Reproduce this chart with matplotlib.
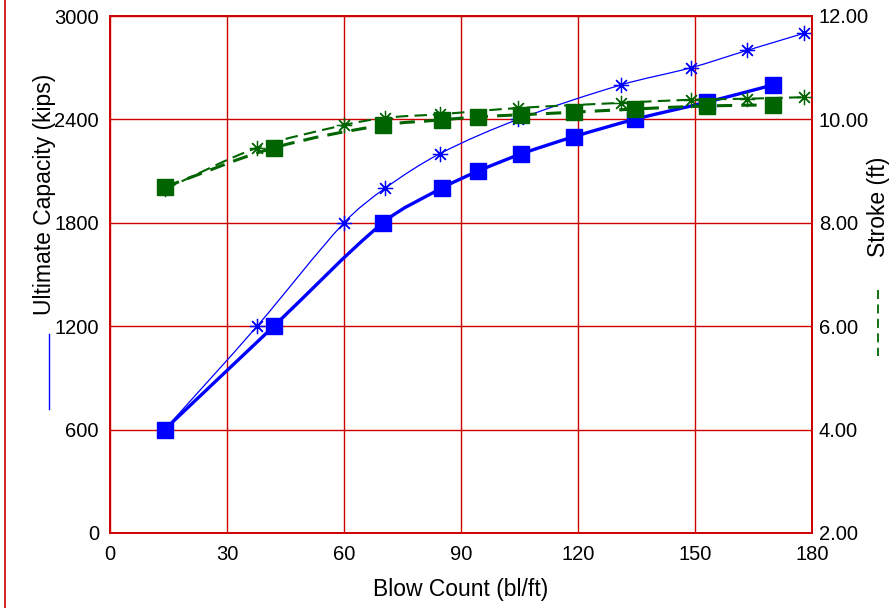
import matplotlib
matplotlib.use("Agg")
import matplotlib.pyplot as plt
from matplotlib.path import Path
from matplotlib.patches import PathPatch
from matplotlib.lines import Line2D
import numpy as np

plt.rcParams['font.family'] = ['Liberation Sans', 'DejaVu Sans']

# data
# set 1: asterisks
blows_a = [14, 37.7, 60, 70.5, 84.5, 104.6, 131, 149, 163.3, 178]
capacity_a = [600, 1200, 1800, 2000, 2200, 2400, 2600, 2700, 2800, 2900]
stroke_a = [8.65, 9.45, 9.89, 10.03, 10.10, 10.22, 10.32, 10.38, 10.40, 10.43]
# set 2: squares
blows_b = [14, 42, 70, 85, 94.4, 105.5, 119, 134.5, 153, 170]
capacity_b = [600, 1200, 1800, 2000, 2100, 2200, 2300, 2400, 2500, 2600]
stroke_b = [8.69, 9.45, 9.89, 9.99, 10.05, 10.09, 10.14, 10.20, 10.26, 10.28]

xticks = [0, 30, 60, 90, 120, 150, 180]
yticks_left = [0, 600, 1200, 1800, 2400, 3000]
yticks_right = [2, 4, 6, 8, 10, 12]

RED = '#cc0000'
BLUE = '#0000ff'
GREEN = '#006400'


def smooth_path(x, y):
    # cubic hermite through the points (slopes from neighbours), as bezier segments
    x = np.asarray(x, float)
    y = np.asarray(y, float)
    n = len(x)
    m = np.empty(n)
    m[0] = (y[1] - y[0]) / (x[1] - x[0])
    m[-1] = (y[-1] - y[-2]) / (x[-1] - x[-2])
    for i in range(1, n - 1):
        m[i] = (y[i + 1] - y[i - 1]) / (x[i + 1] - x[i - 1])
    verts = [(x[0], y[0])]
    codes = [Path.MOVETO]
    for i in range(n - 1):
        h = x[i + 1] - x[i]
        verts += [(x[i] + h / 3, y[i] + m[i] * h / 3),
                  (x[i + 1] - h / 3, y[i + 1] - m[i + 1] * h / 3),
                  (x[i + 1], y[i + 1])]
        codes += [Path.CURVE4] * 3
    return Path(verts, codes)


fig = plt.figure(figsize=(8.93, 6.08), dpi=100)
ax = fig.add_axes([110 / 893, 75 / 608, 702 / 893, 517 / 608])
ax2 = ax.twinx()

ax.set_xlim(0, 180)
ax.set_ylim(0, 3000)
ax2.set_ylim(2, 12)
ax.set_xticks(xticks)
ax.set_yticks(yticks_left)
ax2.set_yticks(yticks_right)
ax2.set_yticklabels(['%.2f' % v for v in yticks_right])

ax.grid(True, color=RED, lw=1.0)
ax.set_axisbelow(True)
for a in (ax, ax2):
    for s in a.spines.values():
        s.set_color(RED)
        s.set_linewidth(1.2)
ax.tick_params(axis='both', length=0, labelsize=14.5)
ax.tick_params(axis='y', pad=8)
ax.tick_params(axis='x', pad=9)
ax2.tick_params(axis='y', length=0, labelsize=14.5, pad=5)

# capacity curves (left axis)
ax.add_patch(PathPatch(smooth_path(blows_a, capacity_a), fill=False,
                       edgecolor=BLUE, lw=0.9, zorder=3))
ax.plot(blows_a, capacity_a, ls='none', marker=(8, 2, 0), ms=11,
        mec=BLUE, mew=0.9, zorder=4)
ax.add_patch(PathPatch(smooth_path(blows_b, capacity_b), fill=False,
                       edgecolor=BLUE, lw=2.4, zorder=3))
ax.plot(blows_b, capacity_b, ls='none', marker='s', ms=11,
        color=BLUE, zorder=4)

# stroke curves (right axis)
ax2.add_patch(PathPatch(smooth_path(blows_a, stroke_a), fill=False,
                        edgecolor=GREEN, lw=1.5, ls=(0, (6, 3)), zorder=3))
ax2.plot(blows_a, stroke_a, ls='none', marker=(8, 2, 0), ms=11,
         mec=GREEN, mew=0.9, zorder=4)
ax2.add_patch(PathPatch(smooth_path(blows_b, stroke_b), fill=False,
                        edgecolor=GREEN, lw=2.2, ls=(0, (5, 3)), zorder=3))
ax2.plot(blows_b, stroke_b, ls='none', marker='s', ms=11,
         color=GREEN, zorder=4)

ax.set_xlabel('Blow Count (bl/ft)', fontsize=16.5, labelpad=10)

# axis titles with their little line keys
fig.text(45 / 893, 1 - 194 / 608, 'Ultimate Capacity (kips)', rotation=90,
         ha='center', va='center', fontsize=16.5)
fig.add_artist(Line2D([49 / 893, 49 / 893], [1 - 334 / 608, 1 - 409 / 608],
                      color=BLUE, lw=1.0))
fig.text(879 / 893, 1 - 207 / 608, 'Stroke (ft)', rotation=90,
         ha='center', va='center', fontsize=16.5)
fig.add_artist(Line2D([878 / 893, 878 / 893], [1 - 290 / 608, 1 - 356 / 608],
                      color=GREEN, lw=1.3, ls=(0, (5, 3))))

# border line at the left edge of the picture
fig.add_artist(Line2D([5 / 893, 5 / 893], [0, 1], color=RED, lw=1.2))

fig.savefig('out.png', dpi=100)
